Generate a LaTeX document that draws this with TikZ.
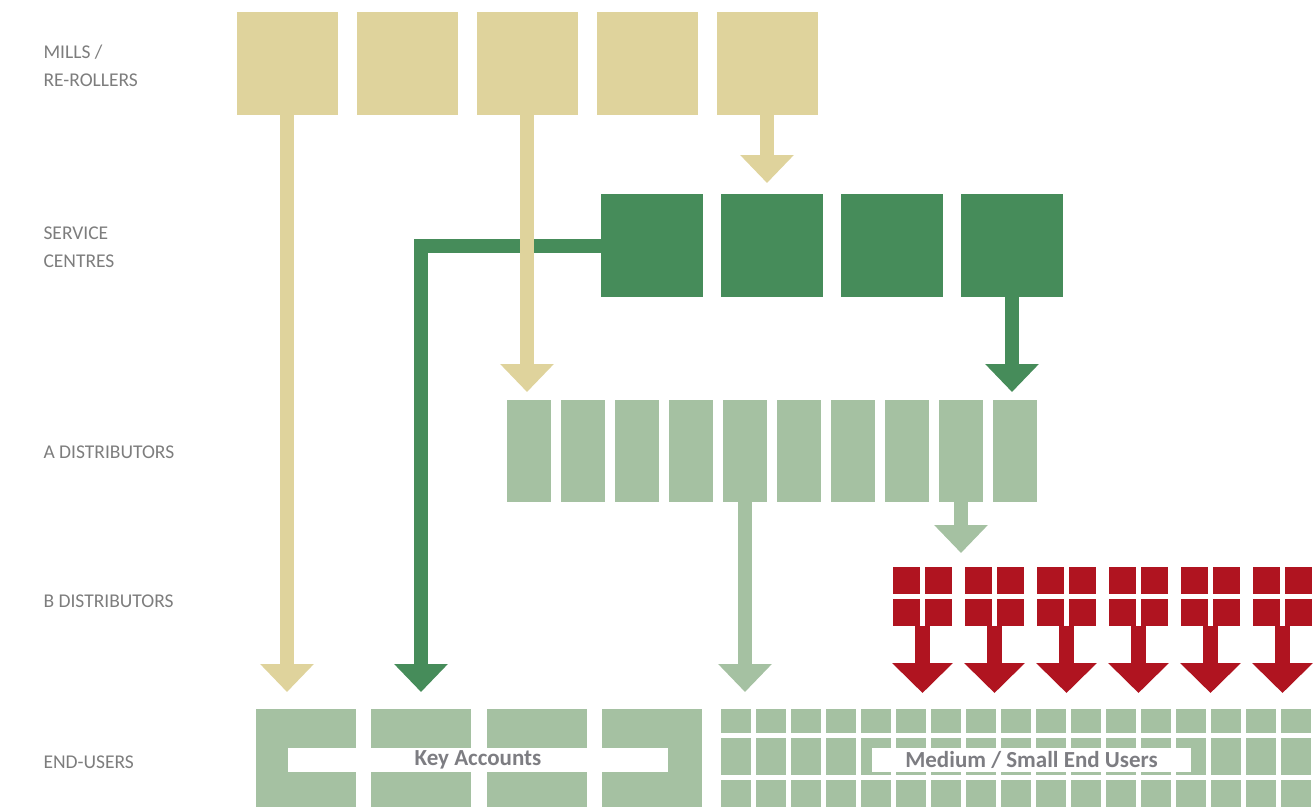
\documentclass[tikz,border=0pt]{standalone}
\usepackage{fontspec}
\setmainfont{Carlito}
\usetikzlibrary{arrows.meta,positioning}
\definecolor{millTan}{RGB}{223,211,156}
\definecolor{centreGreen}{RGB}{70,140,90}
\definecolor{paleGreen}{RGB}{165,193,162}
\definecolor{bRed}{RGB}{176,20,32}
\definecolor{levelGray}{RGB}{125,125,125}
\definecolor{tagGray}{RGB}{125,125,130}
\begin{document}
\begin{tikzpicture}[x=1pt,y=-1pt,node distance=19pt,
   box/.style={rectangle,draw=none,inner sep=0pt,outer sep=0pt},
   mill/.style={box,fill=millTan,minimum width=101pt,minimum height=103pt},
   centre/.style={box,fill=centreGreen,minimum width=102pt,minimum height=103pt},
   adist/.style={box,fill=paleGreen,minimum width=44pt,minimum height=102pt},
   bdist/.style={box,fill=bRed,minimum size=27pt},
   enduser/.style={box,fill=paleGreen,minimum width=100pt,minimum height=98pt},
   cell/.style={box,fill=paleGreen,minimum width=30pt},
   tag/.style={box,fill=white,text=tagGray,minimum height=24pt,
     font=\bfseries\fontsize{23}{23}\selectfont},
   level/.style={anchor=west,align=left,text=levelGray,
     font=\fontsize{19.5}{28}\selectfont},
   flow/.style={line width=14pt,-{Triangle[width=52pt,length=28pt]}},
   bflow/.style={line width=15pt,-{Triangle[width=59pt,length=30pt]}}]
  \useasboundingbox (0,0) rectangle (1313,807);

  % levels
  \node[level] (lMills) at (40,66) {MILLS /\\RE-ROLLERS};
  \node[level] (lCentres) at (40,247) {SERVICE\\CENTRES};
  \node[level] (lAdist) at (40,452) {A DISTRIBUTORS};
  \node[level] (lBdist) at (40,601) {B DISTRIBUTORS};
  \node[level] (lUsers) at (40,762) {END-USERS};

  % mills / re-rollers
  \node[mill] (m1) at (287,63.5) {};
  \node[mill,right=of m1] (m2) {};
  \node[mill,right=of m2] (m3) {};
  \node[mill,right=of m3] (m4) {};
  \node[mill,right=of m4] (m5) {};

  % service centres
  \node[centre] (sc1) at (652,245.5) {};
  \node[centre,right=18pt of sc1] (sc2) {};
  \node[centre,right=18pt of sc2] (sc3) {};
  \node[centre,right=18pt of sc3] (sc4) {};

  % A distributors
  \foreach \i in {1,...,10}
    \node[adist] (ad\i) at ({529+54*(\i-1)},451) {};

  % B distributors
  \foreach \i in {1,...,6} {
    \node[box,minimum size=59pt] (bg\i) at ({922.5+72*(\i-1)},596.5) {};
    \node[bdist,anchor=north west] (bg\i-a) at (bg\i.north west) {};
    \node[bdist,anchor=north east] (bg\i-b) at (bg\i.north east) {};
    \node[bdist,anchor=south west] (bg\i-c) at (bg\i.south west) {};
    \node[bdist,anchor=south east] (bg\i-d) at (bg\i.south east) {};
  }

  % end-users: key accounts
  \node[enduser] (ka1) at (306,758) {};
  \node[enduser,right=15pt of ka1] (ka2) {};
  \node[enduser,right=16pt of ka2] (ka3) {};
  \node[enduser,right=15pt of ka3] (ka4) {};

  % end-users: medium / small
  \foreach \c in {1,...,17} {
    \node[cell,minimum height=24pt] (mu1-\c) at ({736+35*(\c-1)},721) {};
    \node[cell,minimum height=37pt] (mu2-\c) at ({736+35*(\c-1)},756.5) {};
    \node[cell,minimum height=27pt] (mu3-\c) at ({736+35*(\c-1)},793.5) {};
  }
  \node[tag,minimum width=380pt] (kaTag) at (478,760) {Key Accounts};
  \node[tag,minimum width=319pt] (muTag) at (1031.5,760) {Medium / Small End Users};

  % flows
  \draw[flow,centreGreen,shorten >=17pt] (sc1.west) -| (ka2.north);
  \draw[flow,centreGreen,shorten >=8pt] (sc4.south) -- (sc4.south |- ad10.north);
  \draw[flow,paleGreen,shorten >=17pt] (ad5.south) -- (ad5.south |- mu1-1.north);
  \draw[flow,paleGreen,shorten >=14pt] (ad9.south) -- (ad9.south |- bg1.north);
  \foreach \i in {1,...,6}
    \draw[bflow,bRed,shorten >=16pt] (bg\i.south) -- (bg\i.south |- ka1.north);
  \draw[flow,millTan,shorten >=17pt] (m1.south) -- (m1.south |- ka1.north);
  \draw[flow,millTan,shorten >=8pt] (m3.south) -- (m3.south |- ad1.north);
  \draw[flow,millTan,shorten >=11pt] (m5.south) -- (m5.south |- sc2.north);
\end{tikzpicture}
\end{document}
